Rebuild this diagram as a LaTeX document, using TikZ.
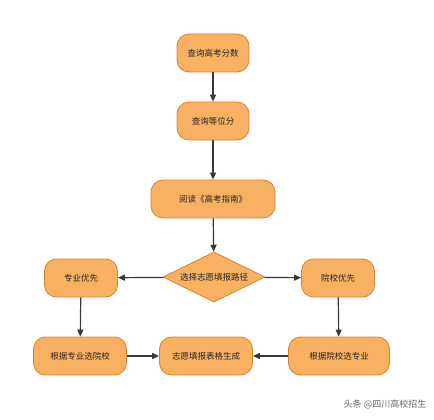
\documentclass[tikz,border=0pt]{standalone}
\usepackage{fontspec}
\setmainfont{Noto Sans CJK SC}
\usetikzlibrary{arrows.meta, positioning, shapes.geometric}

\definecolor{boxfill}{HTML}{F8B062}
\definecolor{boxline}{HTML}{D9822B}
\definecolor{arrowc}{HTML}{383838}

\begin{document}
\begin{tikzpicture}[
    x=1pt, y=-1pt,
    every node/.style={font=\fontsize{8.5}{10}\selectfont, text=black!85}, % 统一字体
    stepbox/.style={draw=boxline, fill=boxfill, line width=0.8pt, rounded corners=12pt,
        minimum height=38pt, inner sep=2pt}, % 圆角框
    choice/.style={draw=boxline, fill=boxfill, line width=0.8pt, diamond, aspect=2.05,
        inner sep=0pt, minimum width=102pt, minimum height=50pt}, % 判断框
    link/.style={arrowc, line width=1.2pt, -{Triangle[length=7pt, width=6pt]}} % 箭头
]
    \useasboundingbox (0,0) rectangle (434,420);

    % 1. 主线
    \node[stepbox, minimum width=72pt] (score) at (213, 53) {查询高考分数};
    \node[stepbox, minimum width=72pt] (rank) at (213, 121) {查询等位分};
    \node[stepbox, minimum width=124pt] (guide) at (213, 199) {阅读《高考指南》};
    \node[choice] (path) at (214, 277) {选择志愿填报路径};

    % 2. 两条路径
    \node[stepbox, minimum width=73pt] (major) at (81, 278) {专业优先};
    \node[stepbox, minimum width=73pt] (school) at (338, 278) {院校优先};
    \node[stepbox, minimum width=93pt] (bymajor) at (80, 356) {根据专业选院校};
    \node[stepbox, minimum width=93pt] (table) at (206, 356) {志愿填报表格生成};
    \node[stepbox, minimum width=101pt] (byschool) at (339, 356) {根据院校选专业};

    % 3. 连线
    \draw[link] (score) -- (rank);
    \draw[link] (rank) -- (guide);
    \draw[link] (guide) -- (path);
    \draw[link] (path) -- (major);
    \draw[link] (path) -- (school);
    \draw[link] (major) -- (bymajor);
    \draw[link] (school) -- (byschool);
    \draw[link] (bymajor) -- (table);
    \draw[link] (byschool) -- (table);

    % 水印
    \node[text=black!60, font=\fontsize{9}{10}\selectfont] (mark) at (385, 404) {头条 @四川高校招生};
\end{tikzpicture}
\end{document}
